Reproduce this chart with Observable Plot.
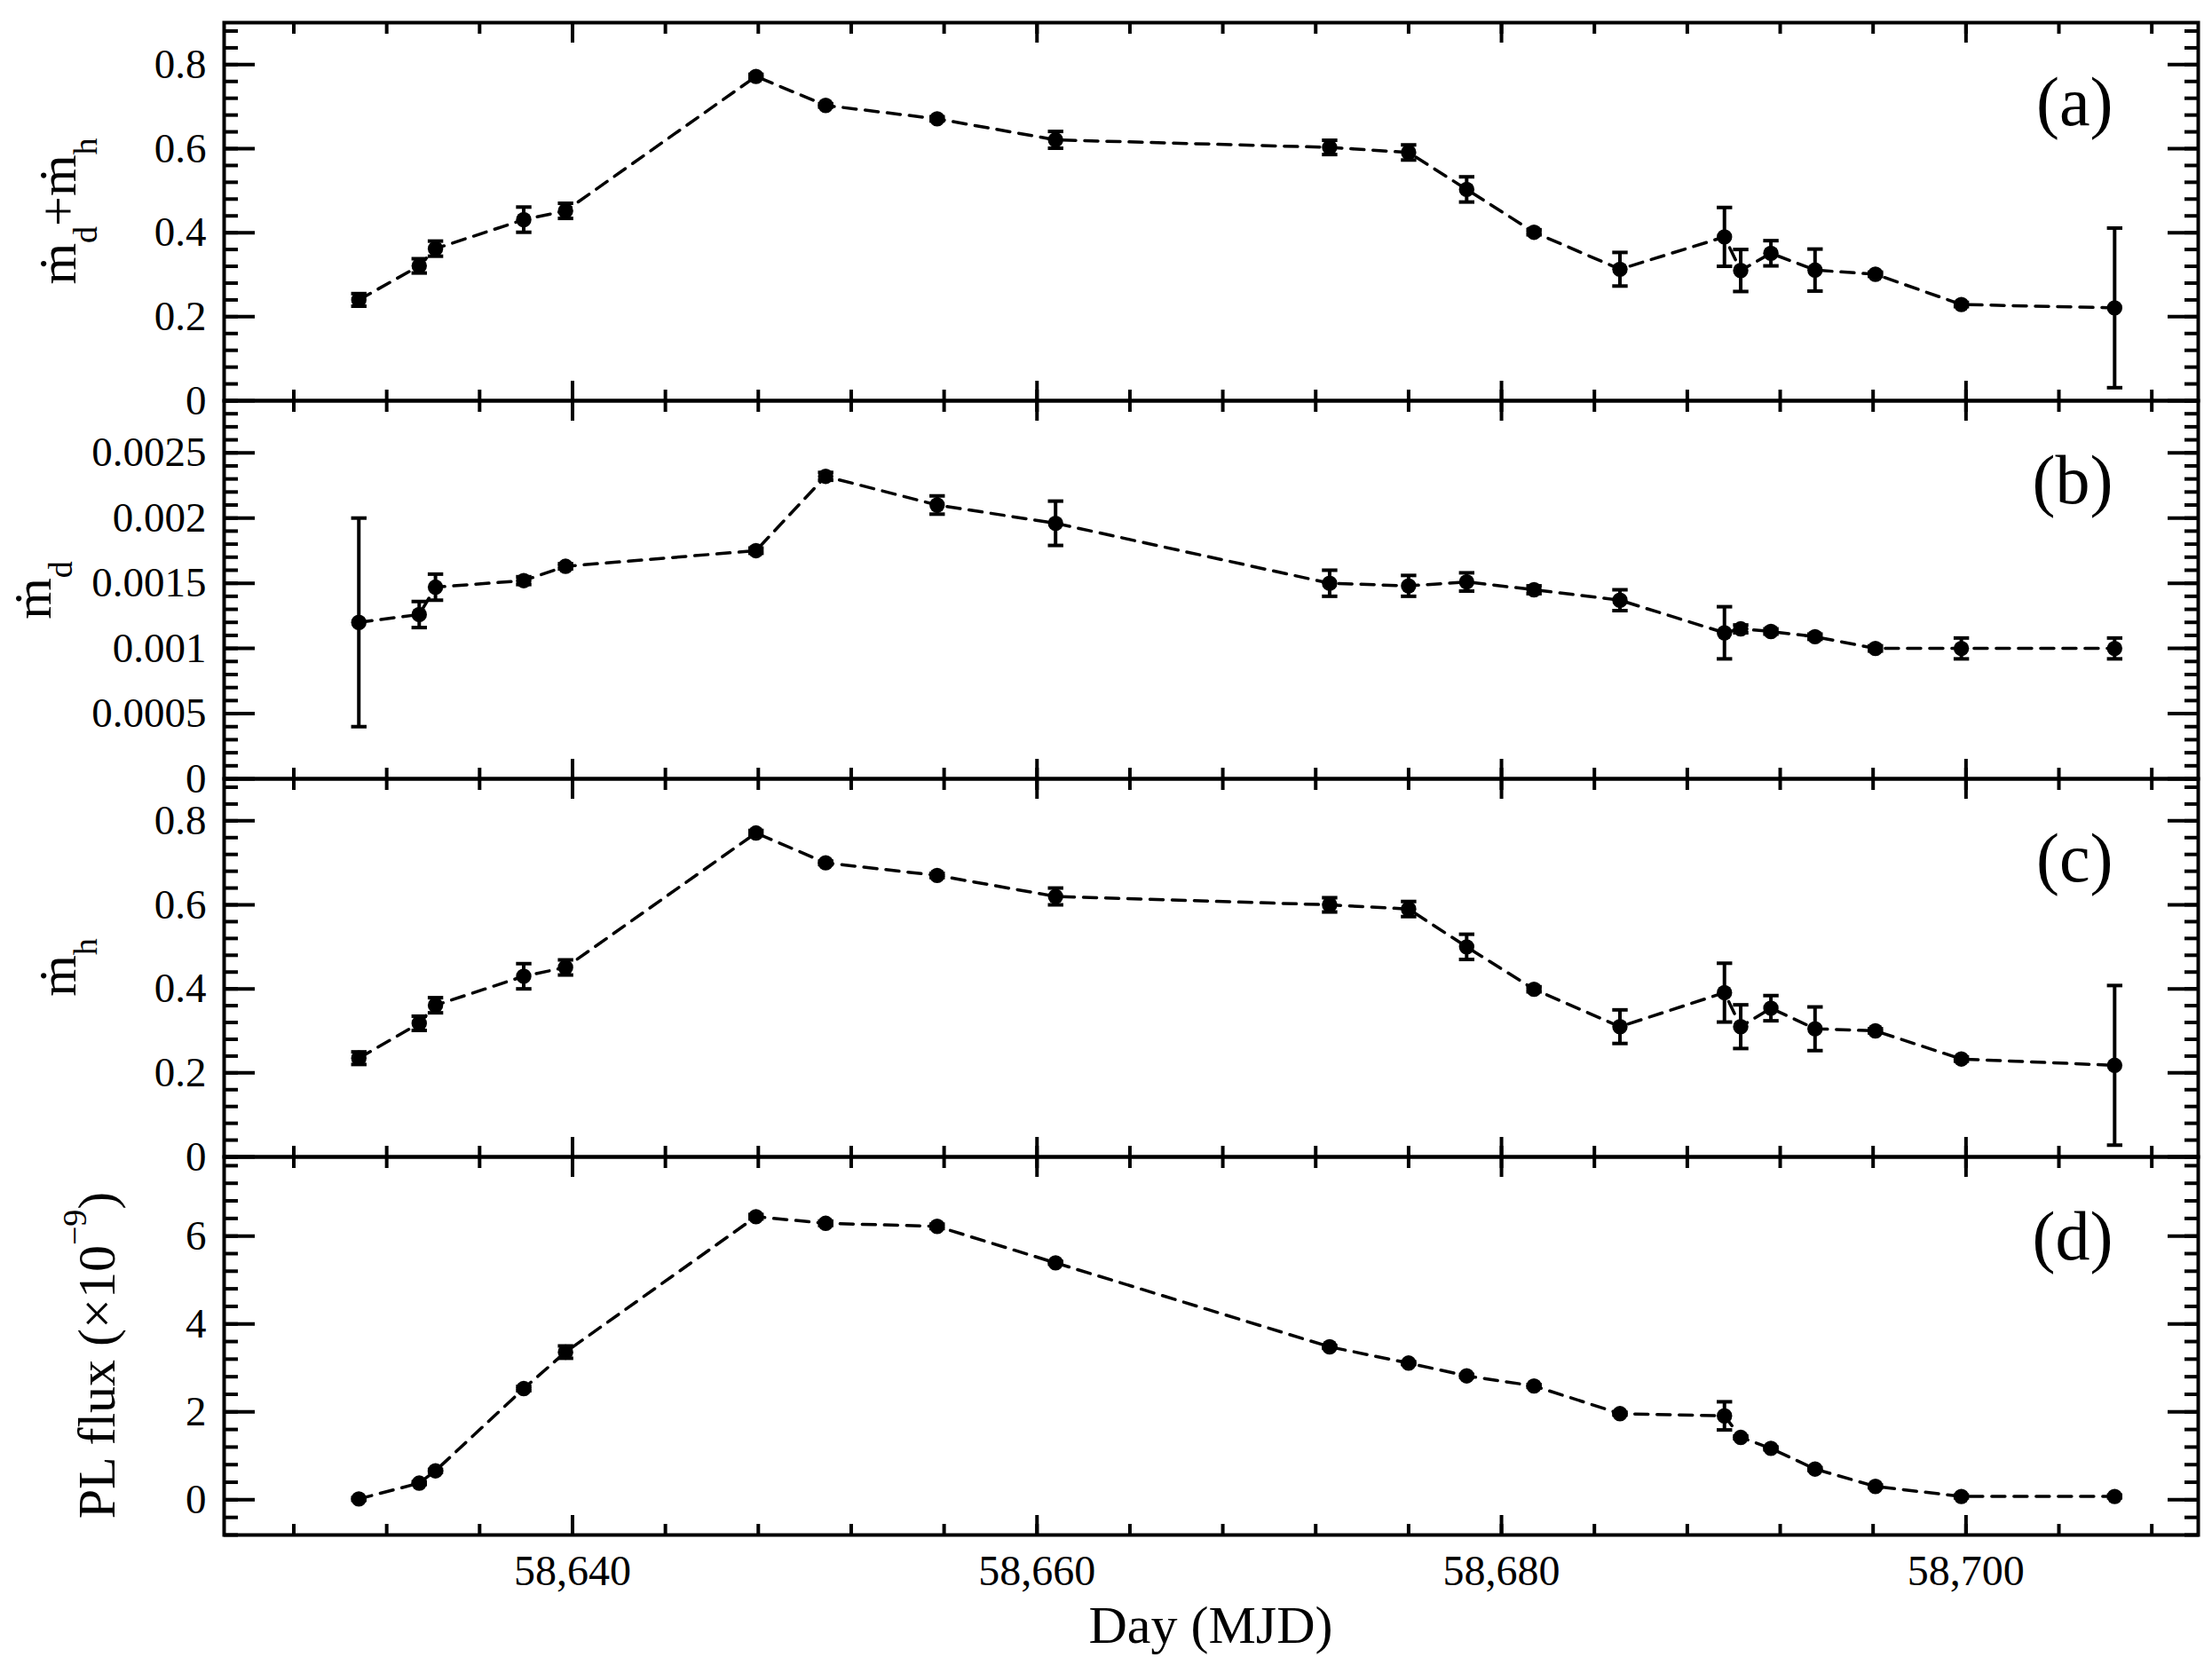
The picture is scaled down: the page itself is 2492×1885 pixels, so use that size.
<!DOCTYPE html>
<html>
<head>
<meta charset="utf-8">
<script src="https://cdn.jsdelivr.net/npm/d3@7"></script>
<script src="https://cdn.jsdelivr.net/npm/@observablehq/plot@0.6"></script>
<style>
html, body { margin: 0; padding: 0; background: #fff; }
#chart { position: relative; width: 2492px; height: 1885px; overflow: hidden; background: #fff; }
#chart svg { position: absolute; left: 0; top: 0; }
</style>
</head>
<body>
<div id="chart"></div>
<script>
// ---- data ----
const days = [58630.8, 58633.4, 58634.1, 58637.9, 58639.7, 58647.9, 58650.9, 58655.7, 58660.8, 58672.6, 58676.0,
              58678.5, 58681.4, 58685.1, 58689.6, 58690.3, 58691.6, 58693.5, 58696.1, 58699.8, 58706.4];

const mdmh    = [0.240, 0.321, 0.362, 0.431, 0.452, 0.772, 0.703, 0.671, 0.621, 0.603, 0.591,
                 0.503, 0.401, 0.313, 0.390, 0.310, 0.351, 0.311, 0.301, 0.229, 0.221];
const mdmhErr = [0.015, 0.017, 0.018, 0.030, 0.018, 0.005, 0.004, 0.005, 0.020, 0.017, 0.018,
                 0.030, 0.006, 0.040, 0.070, 0.050, 0.030, 0.050, 0.005, 0.005, 0.190];

const md    = [0.00120, 0.00126, 0.00147, 0.00152, 0.00163, 0.00175, 0.00232, 0.00210, 0.00196, 0.00150, 0.00148,
               0.00151, 0.00145, 0.00137, 0.00112, 0.00115, 0.00113, 0.00109, 0.00100, 0.00100, 0.00100];
const mdErr = [0.00080, 0.00010, 0.00010, 0.00003, 0.00002, 0.00002, 0.00003, 0.00007, 0.00017, 0.00010, 0.00008,
               0.00007, 0.00003, 0.00008, 0.00020, 0.00003, 0.00002, 0.00002, 0.00002, 0.00008, 0.00008];

const mh    = [0.235, 0.318, 0.361, 0.430, 0.451, 0.771, 0.700, 0.670, 0.620, 0.600, 0.590,
               0.500, 0.399, 0.310, 0.391, 0.310, 0.354, 0.305, 0.300, 0.233, 0.218];
const mhErr = [0.015, 0.017, 0.018, 0.030, 0.018, 0.006, 0.004, 0.005, 0.020, 0.017, 0.018,
               0.030, 0.006, 0.040, 0.070, 0.052, 0.030, 0.052, 0.005, 0.005, 0.190];

const plFlux = [0.02, 0.38, 0.66, 2.53, 3.36, 6.44, 6.29, 6.22, 5.39, 3.48, 3.11,
                2.82, 2.59, 1.96, 1.91, 1.42, 1.17, 0.70, 0.305, 0.076, 0.076];
const plErr  = [0.03, 0.03, 0.03, 0.05, 0.14, 0.05, 0.05, 0.05, 0.03, 0.03, 0.03,
                0.03, 0.03, 0.03, 0.32, 0.03, 0.03, 0.03, 0.03, 0.03, 0.03];

// ---- ticks ----
const xMajorTicks = [58640, 58660, 58680, 58700];
const xMinorTicks = d3.range(58628, 58709, 4);
const yTicksA = [0, 0.2, 0.4, 0.6, 0.8];
const yMinorA = d3.range(0, 0.89, 0.04);
const yTicksB = [0, 0.0005, 0.001, 0.0015, 0.002, 0.0025];
const yMinorB = d3.range(0, 0.00291, 0.0001);
const yTicksC = [0, 0.2, 0.4, 0.6, 0.8];
const yMinorC = d3.range(0, 0.89, 0.04);
const yTicksD = [0, 2, 4, 6];
const yMinorD = d3.range(-0.8, 7.7, 0.4);
const panelTags = ["(a)", "(b)", "(c)", "(d)"];

// ---- layout ----
const W = 2492, H = 1885;
const LEFT = 252, RIGHT = 2476;
const FONT = "'Liberation Serif', 'Times New Roman', 'DejaVu Serif', serif";

const panels = [
  {values: mdmh,   err: mdmhErr, domain: [0, 0.9],    major: yTicksA, minor: yMinorA, top: 25,   bottom: 451,
   label: {x: 85,  y: 238,  parts: [["ṁ"], ["d", "sub"], ["+"], ["ṁ"], ["h", "sub"]]}},
  {values: md,     err: mdErr,   domain: [0, 0.0029], major: yTicksB, minor: yMinorB, top: 451,  bottom: 877,
   label: {x: 57,  y: 665,  parts: [["ṁ"], ["d", "sub"]]}},
  {values: mh,     err: mhErr,   domain: [0, 0.9],    major: yTicksC, minor: yMinorC, top: 877,  bottom: 1303,
   label: {x: 85,  y: 1090, parts: [["ṁ"], ["h", "sub"]]}},
  {values: plFlux, err: plErr,   domain: [-0.8, 7.8], major: yTicksD, minor: yMinorD, top: 1303, bottom: 1729,
   label: {x: 129, y: 1527, parts: [["PL flux (×10"], ["−9", "sup"], [")"]]}}
];

const capSymbol = {
  draw(context, size) {
    const r = Math.sqrt(size / Math.PI);
    context.moveTo(-r, 0);
    context.lineTo(r, 0);
  }
};

const chart = document.getElementById("chart");

function addYLabel(svg, lab) {
  const t = d3.select(svg).append("text")
    .attr("transform", `translate(${lab.x},${lab.y}) rotate(-90)`)
    .attr("text-anchor", "middle")
    .attr("font-family", FONT)
    .attr("font-size", 60)
    .attr("fill", "black");
  let shift = 0;
  for (const [txt, kind] of lab.parts) {
    const ts = t.append("tspan").text(txt);
    let target = 0;
    if (kind === "sub") { ts.attr("font-size", 38); target = 24; }
    else if (kind === "sup") { ts.attr("font-size", 38); target = -32; }
    ts.attr("dy", target - shift);
    shift = target;
  }
}

panels.forEach((p, k) => {
  const last = k === panels.length - 1;
  const data = days.map((x, i) => ({x, y: p.values[i], lo: p.values[i] - p.err[i], hi: p.values[i] + p.err[i]}));
  const tickOpts = {strokeWidth: 4, stroke: "black", fill: "none", label: null};
  const marks = [
    Plot.line(data, {x: "x", y: "y", stroke: "black", strokeWidth: 3.5, strokeDasharray: "15,10"}),
    Plot.ruleX(data, {x: "x", y1: "lo", y2: "hi", stroke: "black", strokeWidth: 4}),
    Plot.dot(data, {x: "x", y: "lo", symbol: capSymbol, r: 8.7, fill: "none", stroke: "black", strokeWidth: 4}),
    Plot.dot(data, {x: "x", y: "hi", symbol: capSymbol, r: 8.7, fill: "none", stroke: "black", strokeWidth: 4}),
    Plot.dot(data, {x: "x", y: "y", r: 8.7, fill: "black", stroke: "none"}),
    Plot.axisY(p.major, {anchor: "left",  tickSize: -35, ...tickOpts}),
    Plot.axisY(p.minor, {anchor: "left",  tickSize: -16, ...tickOpts}),
    Plot.axisY(p.major, {anchor: "right", tickSize: -35, ...tickOpts}),
    Plot.axisY(p.minor, {anchor: "right", tickSize: -16, ...tickOpts}),
    Plot.axisY(p.major, {anchor: "left", tickSize: 0, tickPadding: 20, stroke: "none", fill: "black",
                         fontSize: 47, fontFamily: FONT, tickFormat: d => String(d), label: null}),
    Plot.axisX(xMajorTicks, {anchor: "bottom", tickSize: -22, ...tickOpts}),
    Plot.axisX(xMinorTicks, {anchor: "bottom", tickSize: -12, ...tickOpts}),
    Plot.axisX(xMajorTicks, {anchor: "top",    tickSize: -22, ...tickOpts}),
    Plot.axisX(xMinorTicks, {anchor: "top",    tickSize: -12, ...tickOpts}),
    Plot.frame({stroke: "black", strokeWidth: 4}),
    Plot.text([panelTags[k]], {frameAnchor: "top-right", dx: -96, dy: 60, fontSize: 78, fontFamily: FONT, fill: "black"})
  ];
  if (last) {
    marks.push(Plot.axisX(xMajorTicks, {anchor: "bottom", tickSize: 0, tickPadding: 22, stroke: "none", fill: "black",
                                        fontSize: 48, fontFamily: FONT, tickFormat: d3.format(","), label: null}));
  }
  const svg = Plot.plot({
    width: W, height: H,
    marginLeft: LEFT, marginRight: W - RIGHT, marginTop: p.top, marginBottom: H - p.bottom,
    style: {background: "transparent", fontFamily: FONT, overflow: "visible", maxWidth: "none"},
    x: {domain: [58625, 58710]},
    y: {domain: p.domain},
    marks
  });
  chart.appendChild(svg);
  addYLabel(svg, p.label);
  if (last) {
    d3.select(svg).append("text")
      .attr("x", (LEFT + RIGHT) / 2).attr("y", 1851)
      .attr("text-anchor", "middle")
      .attr("font-family", FONT).attr("font-size", 60).attr("fill", "black")
      .text("Day (MJD)");
  }
});
</script>
</body>
</html>
